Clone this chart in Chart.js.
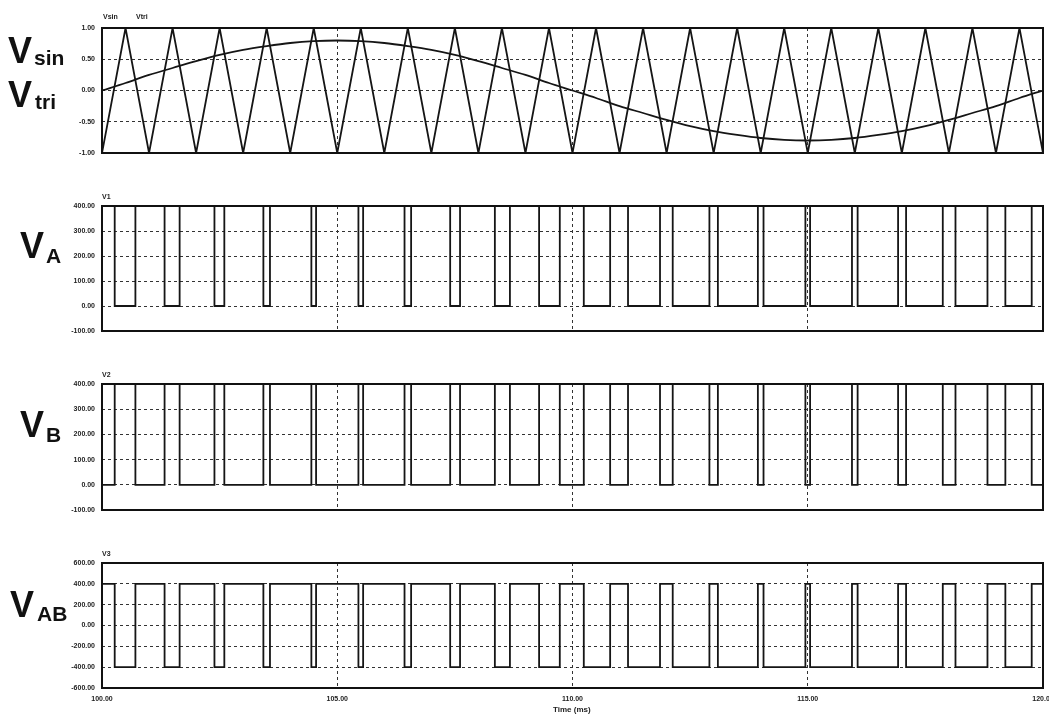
<!DOCTYPE html>
<html><head><meta charset="utf-8">
<script src="https://cdn.jsdelivr.net/npm/chart.js@4.4.1/dist/chart.umd.min.js"></script>
<style>
html,body{margin:0;padding:0;background:#fff;}
#wrap{position:relative;width:1049px;height:715px;overflow:hidden;background:#fff;}
canvas{position:absolute;left:0;top:0;}
.big{position:absolute;font-family:"Liberation Sans",Arial,sans-serif;font-weight:bold;color:#111;white-space:nowrap;}
.v{font-size:36px;line-height:35px;}
.s{font-size:21px;line-height:20px;}
.small{position:absolute;font-family:"Liberation Sans",Arial,sans-serif;font-size:7px;line-height:8px;color:#222;font-weight:bold;white-space:nowrap;}
</style></head>
<body><div id="wrap">
<canvas id="c1" width="1049" height="715"></canvas>
<canvas id="c2" width="1049" height="715"></canvas>
<canvas id="c3" width="1049" height="715"></canvas>
<canvas id="c4" width="1049" height="715"></canvas>

<div class="big v" style="left:8px;top:33px;">V</div><div class="big s" style="left:34px;top:48px;">sin</div>
<div class="big v" style="left:8px;top:77px;">V</div><div class="big s" style="left:35px;top:92px;">tri</div>
<div class="big v" style="left:20px;top:228px;">V</div><div class="big s" style="left:46px;top:246px;">A</div>
<div class="big v" style="left:20px;top:407px;">V</div><div class="big s" style="left:46px;top:425px;">B</div>
<div class="big v" style="left:10px;top:587px;">V</div><div class="big s" style="left:37px;top:604px;">AB</div>

<div class="small" style="left:103px;top:13px;">Vsin</div>
<div class="small" style="left:136px;top:13px;">Vtri</div>
<div class="small" style="left:102px;top:193px;">V1</div>
<div class="small" style="left:102px;top:371px;">V2</div>
<div class="small" style="left:102px;top:550px;">V3</div>
<div class="small" style="left:553px;top:706px;font-size:8px;">Time (ms)</div>
</div>
<script>
// ---- data (time in ms) ----
const sinTimes = [100,100.5,101,101.5,102,102.5,103,103.5,104,104.5,105,105.5,106,106.5,107,107.5,108,108.5,109,109.5,110,
  110.5,111,111.5,112,112.5,113,113.5,114,114.5,115,115.5,116,116.5,117,117.5,118,118.5,119,119.5,120];
const sinValues = [0.00,0.12,0.25,0.36,0.47,0.57,0.65,0.71,0.76,0.79,0.80,0.79,0.76,0.71,0.65,0.57,0.47,0.36,0.25,0.12,0.00,
  -0.12,-0.25,-0.36,-0.47,-0.57,-0.65,-0.71,-0.76,-0.79,-0.80,-0.79,-0.76,-0.71,-0.65,-0.57,-0.47,-0.36,-0.25,-0.12,0.00];
const triTimes = [100,100.5,101,101.5,102,102.5,103,103.5,104,104.5,105,105.5,106,106.5,107,107.5,108,108.5,109,109.5,110,
  110.5,111,111.5,112,112.5,113,113.5,114,114.5,115,115.5,116,116.5,117,117.5,118,118.5,119,119.5,120];
const triValues = [-1,1,-1,1,-1,1,-1,1,-1,1,-1,1,-1,1,-1,1,-1,1,-1,1,-1,1,-1,1,-1,1,-1,1,-1,1,-1,1,-1,1,-1,1,-1,1,-1,1,-1];
// switching instants of leg A (goes low / goes high)
const switchDown = [100.27,101.33,102.39,103.43,104.45,105.45,106.43,107.40,108.35,109.29,110.24,111.18,112.13,113.09,114.06,115.05,116.06,117.09,118.14,119.20];
const switchUp   = [100.71,101.65,102.60,103.57,104.55,105.55,106.57,107.61,108.67,109.73,110.80,111.86,112.91,113.94,114.95,115.94,116.92,117.87,118.82,119.76];
const vaLevels  = [400, 0];     // [between edges high, low]
const vbLevels  = [0, 400];
const vabLevels = [400, -400];
const xTicks = [100,105,110,115,120];
const yTicks1 = [-1,-0.5,0,0.5,1];
const yTicks2 = [-100,0,100,200,300,400];
const yTicks3 = [-100,0,100,200,300,400];
const yTicks4 = [-600,-400,-200,0,200,400,600];

function pairs(xs, ys){ return xs.map((x,i)=>({x:x,y:ys[i]})); }
function stepSeries(levels){
  const hi = levels[0], lo = levels[1];
  const pts = [{x:100,y:hi}];
  for(let i=0;i<switchDown.length;i++){
    pts.push({x:switchDown[i],y:hi},{x:switchDown[i],y:lo},{x:switchUp[i],y:lo},{x:switchUp[i],y:hi});
  }
  pts.push({x:120,y:hi});
  return pts;
}

const framePlugin = {id:'frame', afterDatasetsDraw(chart){
  const a = chart.chartArea, ctx = chart.ctx;
  ctx.save(); ctx.strokeStyle='#111'; ctx.lineWidth=2;
  ctx.strokeRect(a.left, a.top, a.right-a.left, a.bottom-a.top);
  ctx.restore();
}};

const tickFont = {family:'"Liberation Sans", Arial, sans-serif', size:7, weight:'bold'};

function gridColor(min,max){
  return (c)=> (c.tick && (c.tick.value===min || c.tick.value===max)) ? 'rgba(0,0,0,0)' : '#333';
}

function makePanel(id, datasets, yMin, yMax, yTicks, padTop, padBottom, showX){
  new Chart(document.getElementById(id), {
    type:'line',
    data:{datasets:datasets},
    plugins:[framePlugin],
    options:{
      responsive:false, animation:false, events:[],
      layout:{padding:{left:0,right:6,top:padTop,bottom:padBottom}},
      plugins:{legend:{display:false}, tooltip:{enabled:false}, title:{display:false}},
      elements:{point:{radius:0}},
      scales:{
        x:{type:'linear', min:100, max:120,
          afterBuildTicks:(s)=>{ s.ticks = xTicks.map(v=>({value:v})); },
          afterFit:(s)=>{ s.height = showX ? 20 : 0; s.paddingLeft=0; s.paddingRight=0; },
          grid:{color:gridColor(100,120), drawTicks:false, lineWidth:1},
          border:{display:false, dash:[3,3]},
          ticks:{display:showX, font:tickFont, color:'#222', padding:7, maxRotation:0, autoSkip:false,
            callback:(v)=>Number(v).toFixed(2)}
        },
        y:{type:'linear', min:yMin, max:yMax,
          afterBuildTicks:(s)=>{ s.ticks = yTicks.map(v=>({value:v})); },
          afterFit:(s)=>{ s.width = 102; s.paddingTop=0; s.paddingBottom=0; },
          grid:{color:gridColor(yMin,yMax), drawTicks:false, lineWidth:1},
          border:{display:false, dash:[3,3]},
          ticks:{font:tickFont, color:'#222', padding:7, autoSkip:false,
            callback:(v)=>Number(v).toFixed(2)}
        }
      }
    }
  });
}

const lineStyle = {borderColor:'#151515', borderWidth:1.8, pointRadius:0, fill:false};

makePanel('c1', [
  Object.assign({label:'Vsin', data:pairs(sinTimes,sinValues), tension:0.4, cubicInterpolationMode:'monotone'}, lineStyle),
  Object.assign({label:'Vtri', data:pairs(triTimes,triValues), tension:0}, lineStyle)
], -1, 1, yTicks1, 28, 562, false);

makePanel('c2', [Object.assign({label:'V1', data:stepSeries(vaLevels), tension:0}, lineStyle)],
  -100, 400, yTicks2, 206, 384, false);
makePanel('c3', [Object.assign({label:'V2', data:stepSeries(vbLevels), tension:0}, lineStyle)],
  -100, 400, yTicks3, 384, 205, false);
makePanel('c4', [Object.assign({label:'V3', data:stepSeries(vabLevels), tension:0}, lineStyle)],
  -600, 600, yTicks4, 563, 7, true);
</script>
</body></html>
